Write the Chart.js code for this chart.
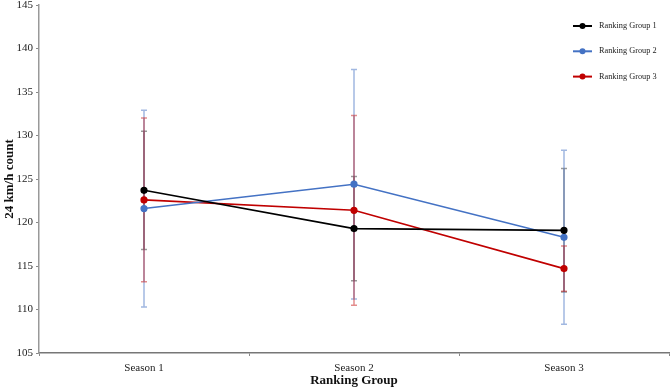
<!DOCTYPE html>
<html>
<head>
<meta charset="utf-8">
<script src="https://cdn.jsdelivr.net/npm/chart.js@4.4.1/dist/chart.umd.min.js"></script>
<style>
    html, body { margin: 0; padding: 0; background: #fff; }
    #wrap { width: 670px; height: 388px; }
</style>
</head>
<body>
<div id="wrap"><canvas id="mycanvas"></canvas></div>
<script>
const seasons = ['Season 1', 'Season 2', 'Season 3'];
const groupNames = ['Ranking Group 1', 'Ranking Group 2', 'Ranking Group 3'];

const group1 = [123.7, 119.3, 119.1];
const group1Err = [6.8, 6.0, 7.1];
const group2 = [121.6, 124.4, 118.3];
const group2Err = [11.3, 13.2, 10.0];
const group3 = [122.6, 121.4, 114.7];
const group3Err = [9.4, 10.9, 2.6];

const yTicks = [105, 110, 115, 120, 125, 130, 135, 140, 145];

const FONT = "'Liberation Serif', 'Times New Roman', serif";

function makeSet(label, data, err, color, barColor) {
    return {
        label: label,
        data: data,
        errors: err,
        barColor: barColor,
        borderColor: color,
        backgroundColor: color,
        pointBackgroundColor: color,
        pointBorderColor: color,
        borderWidth: 1.6,
        pointRadius: 2.8,
        tension: 0
    };
}

// vertical error bars, drawn under the lines
const errorBars = {
    id: 'errorBars',
    beforeDatasetsDraw(chart) {
        const ctx = chart.ctx;
        const x = chart.scales.x, y = chart.scales.y;
        ctx.save();
        chart.data.datasets.forEach(ds => {
            ds.data.forEach((v, i) => {
                const px = x.getPixelForValue(i);
                const top = y.getPixelForValue(v + ds.errors[i]);
                const bot = y.getPixelForValue(v - ds.errors[i]);
                ctx.strokeStyle = ds.barColor;
                ctx.lineWidth = 1.5;
                ctx.beginPath();
                ctx.moveTo(px, top); ctx.lineTo(px, bot);
                ctx.moveTo(px - 3, top); ctx.lineTo(px + 3, top);
                ctx.moveTo(px - 3, bot); ctx.lineTo(px + 3, bot);
                ctx.stroke();
            });
        });
        ctx.restore();
    }
};

// legend inside the plot, top right
const cornerLegend = {
    id: 'cornerLegend',
    afterDraw(chart) {
        const ctx = chart.ctx;
        const area = chart.chartArea;
        ctx.save();
        ctx.font = '8.3px ' + FONT;
        ctx.textBaseline = 'middle';
        chart.data.datasets.forEach((ds, i) => {
            const ly = area.top + 21 + i * 25.3;
            const lx = area.right - 96;
            ctx.strokeStyle = ds.borderColor;
            ctx.lineWidth = 2;
            ctx.beginPath();
            ctx.moveTo(lx, ly); ctx.lineTo(lx + 19, ly);
            ctx.stroke();
            ctx.fillStyle = ds.borderColor;
            ctx.beginPath();
            ctx.arc(lx + 9.5, ly, 3, 0, Math.PI * 2);
            ctx.fill();
            ctx.fillStyle = '#222';
            ctx.fillText(ds.label, lx + 26, ly);
        });
        ctx.restore();
    }
};

const ctx = document.getElementById('mycanvas');
new Chart(ctx, {
    type: 'line',
    data: {
        labels: seasons,
        datasets: [
            makeSet(groupNames[0], group1, group1Err, '#000000', 'rgba(0,0,0,0.4)'),
            makeSet(groupNames[1], group2, group2Err, '#4472C4', 'rgba(68,114,196,0.5)'),
            makeSet(groupNames[2], group3, group3Err, '#C00000', 'rgba(192,0,0,0.45)')
        ]
    },
    options: {
        responsive: true,
        maintainAspectRatio: false,
        animation: false,
        layout: { autoPadding: false, padding: { top: 0, right: 1, left: 2, bottom: 0 } },
        plugins: {
            legend: { display: false },
            tooltip: { enabled: false }
        },
        scales: {
            x: {
                offset: true,
                grid: {
                    offset: true,
                    drawOnChartArea: false,
                    drawTicks: true,
                    tickLength: 3,
                    tickColor: '#888'
                },
                border: { color: '#777', width: 1.5 },
                ticks: { color: '#222', font: { family: FONT, size: 11 }, padding: 6 },
                afterFit(axis) {
                    axis.height = 35;
                    axis.paddingLeft = 0;
                    axis.paddingRight = 0;
                },
                title: {
                    display: true,
                    text: 'Ranking Group',
                    color: '#111',
                    font: { family: FONT, size: 13, weight: 'bold' },
                    padding: { top: 0, bottom: 0 }
                }
            },
            y: {
                min: 105,
                max: 145,
                afterBuildTicks(axis) {
                    axis.ticks = yTicks.map(v => ({ value: v }));
                },
                afterFit(axis) {
                    axis.width = 37;
                    axis.paddingTop = 5;
                    axis.paddingBottom = 0;
                },
                grid: {
                    drawOnChartArea: false,
                    drawTicks: true,
                    tickLength: 3,
                    tickColor: '#888'
                },
                border: { color: '#999', width: 1.5 },
                ticks: { color: '#222', font: { family: FONT, size: 11 }, padding: 3 },
                title: {
                    display: true,
                    text: '24 km/h count',
                    color: '#111',
                    font: { family: FONT, size: 13, weight: 'bold' },
                    padding: { top: 0, bottom: 0 }
                }
            }
        }
    },
    plugins: [errorBars, cornerLegend]
});
</script>
</body>
</html>
